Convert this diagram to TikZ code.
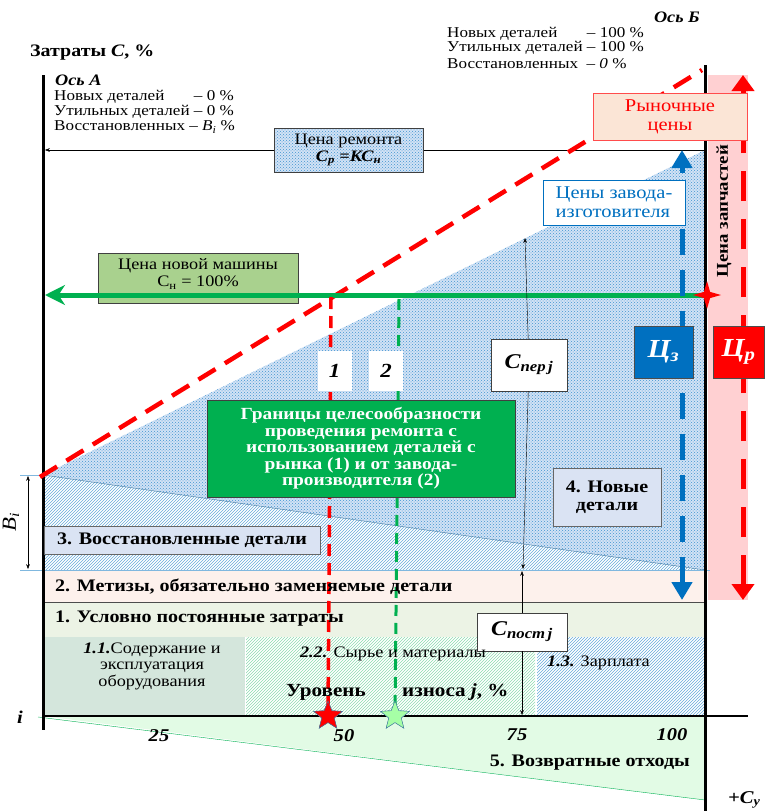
\documentclass[tikz,border=0pt]{standalone}
\usepackage{fontspec}
\setmainfont{Liberation Serif}[FakeStretch=1.14]
\usetikzlibrary{shapes}
\usetikzlibrary{patterns}
\usetikzlibrary{arrows.meta}
\usetikzlibrary{positioning}

\definecolor{zgreen}{RGB}{0,176,80}
\definecolor{zblue}{RGB}{0,112,192}
\definecolor{zred}{RGB}{255,0,0}
\definecolor{newcar}{RGB}{169,209,142}
\definecolor{lightbox}{RGB}{218,227,243}
\definecolor{meshblue}{RGB}{210,226,245}
\definecolor{marketfill}{RGB}{251,229,214}
\definecolor{bandpink}{RGB}{253,241,236}
\definecolor{bandgreen}{RGB}{236,243,229}
\definecolor{upkeep}{RGB}{212,230,220}
\definecolor{sparepink}{RGB}{255,208,210}
\definecolor{scrap}{RGB}{226,251,229}

\begin{document}
\begin{tikzpicture}[x=1pt,y=-1pt,>=Stealth,
  small text/.style={font=\fontsize{15}{15}\selectfont,inner sep=0pt,anchor=west},
  zone label/.style={font=\fontsize{17.6}{17.6}\selectfont\bfseries,inner sep=0pt},
  tick label/.style={font=\fontsize{18}{18}\selectfont\bfseries\itshape,inner sep=0pt},
  main box/.style={draw=black!75,align=center,inner sep=0pt},
  red dash/.style={zred,line width=4.5pt,dash pattern=on 20pt off 11pt},
  mesh/.style={preaction={fill=meshblue},pattern=crosshatch dots,pattern color=zblue!75},
  lines blue/.style={pattern=north east lines,pattern color=zblue!60},
  mark star/.style={star,star points=5,star point ratio=2.3,minimum size=30pt,inner sep=0pt,draw=zblue!50!gray}]

\useasboundingbox (0,0) rectangle (764,811);

\coordinate (a top) at (43,75);
\coordinate (a bot) at (43,730);
\coordinate (b top) at (705,65);
\coordinate (b bot) at (705,811);
\coordinate (origin) at (43,716);
\coordinate (x end) at (748,716);
\coordinate (bi top) at (43,475);
\coordinate (bi bot) at (43,570);
\coordinate (new top) at (705,150);
\coordinate (new bot) at (705,570);

% zones
\fill[bandpink] (43,570) rectangle (705,602);
\fill[bandgreen] (43,602) rectangle (705,637);
\fill[upkeep] (45,637) rectangle (245,716);
\fill[pattern=north east lines,pattern color=zgreen!45] (246,637) rectangle (535,716);
\fill[lines blue] (537,637) rectangle (705,716);
\fill[scrap] (origin) -- (705,716) -- (705,800) -- cycle;
\draw[zgreen,thin] (38,717) -- (705,800) -- (705,716);
\fill[mesh] (bi top) -- (new top) -- (new bot) -- cycle;
\fill[lines blue] (bi top) -- (new bot) -- (bi bot) -- cycle;
\draw[zblue!50!gray,thin] (bi top) -- (new bot);
\draw[black!70,thin] (43,602) -- (705,602);
\fill[sparepink] (708,75) rectangle (748,600);
\draw[zblue!50,thin] (20,475) -- (bi top);
\draw[zblue!50,thin] (20,570) -- (710,570);

% axes
\draw[line width=3pt] (a top) -- (a bot);
\draw[line width=3pt] (b top) -- (b bot);
\draw[line width=2.5pt] (origin) -- (x end);

% repair price
\coordinate (repair right) at (705,150);
\coordinate (repair left) at (45,150);
\draw[->,thin] (repair right) -- (repair left);
\node[main box,mesh,minimum width=149pt,minimum height=44pt,font=\fontsize{16}{16}\selectfont] at (348.5,150) (repair) {Цена ремонта\\[1pt]\textbf{\textit{C\textsubscript{р} =КС\textsubscript{н}}}};

% market line
\coordinate (market start) at (40,477);
\coordinate (market end) at (702,70);
\draw[red dash] (market start) -- (market end);

% new machine price
\coordinate (green right) at (705,295);
\coordinate (green left) at (45,295);
\node[main box,fill=newcar,minimum width=200pt,minimum height=50pt] at (198,278) (new car) {};
\node[font=\fontsize{16}{17}\selectfont,align=center,inner sep=0pt] at (198,274) (new car text) {Цена новой машины\\С\textsubscript{н} = 100\%};
\draw[zgreen,line width=5pt,-{Stealth[length=20pt,width=20pt]}] (green right) -- (green left);
\node[star,star points=4,star point ratio=3.2,minimum size=28pt,inner sep=0pt,fill=zred] at (707,295) (cross star) {};

% limits 1 and 2
\coordinate (cross one) at (331,297);
\coordinate (cross two) at (399,299);
\node[mark star,fill=zred] at (328,716) (star one) {};
\node[mark star,fill=green!35] at (395,716) (star two) {};
\draw[zred,line width=3.5pt,dash pattern=on 12pt off 7pt] (cross one) -- (star one.center);
\draw[zgreen,line width=3pt,dash pattern=on 11pt off 7pt] (cross two) -- (star two.center);
\node[mark star,fill=zred] at (328,716) {};
\node[mark star,fill=green!35] at (395,716) {};
\node[fill=white,minimum width=34pt,minimum height=40pt,font=\fontsize{20}{20}\selectfont\bfseries\itshape] at (334.5,371) (limit one) {1};
\node[fill=white,minimum width=34pt,minimum height=40pt,font=\fontsize{20}{20}\selectfont\bfseries\itshape] at (386,371) (limit two) {2};
\node[main box,fill=zgreen,text=white,minimum width=308pt,minimum height=97pt,font=\fontsize{17}{16.5}\selectfont\bfseries] at (361,448.5) (bounds) {Границы целесообразности\\проведения ремонта с\\использованием деталей с\\рынка (1) и от завода-\\производителя (2)};

% variable and constant costs
\coordinate (per top) at (525,238);
\coordinate (per bot) at (523,569);
\coordinate (post top) at (522,571);
\coordinate (post bot) at (522,715);
\node[main box,fill=white,minimum width=76pt,minimum height=52pt,font=\fontsize{21}{21}\selectfont\bfseries\itshape] at (529,365) (c per) {C\textsubscript{пер\,j}};
\node[main box,fill=white,minimum width=90pt,minimum height=38pt,font=\fontsize{21}{21}\selectfont\bfseries\itshape] at (522,632) (c post) {C\textsubscript{пост\,j}};
\draw[->,thin] (c per) -- (per top);
\draw[->,thin] (c per) -- (per bot);
\draw[->,thin] (c post) -- (post top);
\draw[->,thin] (c post) -- (post bot);

% spare part prices
\coordinate (factory top) at (682,150);
\coordinate (factory bot) at (682,600);
\coordinate (market top) at (743,75);
\coordinate (market bot) at (743,600);
\draw[zblue,line width=5pt,dash pattern=on 26pt off 15pt,{Triangle[length=18pt,width=20pt]}-{Triangle[length=18pt,width=20pt]}] (factory bot) -- (factory top);
\draw[zred,line width=5pt,dash pattern=on 30pt off 18pt,{Triangle[length=16pt,width=22pt]}-{Triangle[length=16pt,width=22pt]}] (market bot) -- (market top);
\node[draw=zblue,fill=white,text=zblue,align=left,inner sep=0pt,minimum width=142pt,minimum height=45pt,font=\fontsize{18}{19}\selectfont] at (614,202.5) (factory) {Цены завода-\\изготовителя};
\node[draw=zred!70,fill=marketfill,text=zred,align=center,inner sep=0pt,minimum width=154pt,minimum height=47pt,font=\fontsize{18}{19}\selectfont] at (670,116.5) (market) {Рыночные\\цены};
\node[draw=black!70,fill=zblue,text=white,inner sep=0pt,minimum width=59pt,minimum height=52pt,font=\fontsize{26}{26}\selectfont\bfseries\itshape] at (663.5,352) (price z) {Ц\textsubscript{з}};
\node[draw=black!70,fill=zred,text=white,inner sep=0pt,minimum width=51pt,minimum height=52pt,font=\fontsize{26}{26}\selectfont\bfseries\itshape] at (738.5,352) (price r) {Ц\textsubscript{р}};
\node[rotate=90,font=\fontsize{16.5}{16.5}\selectfont\bfseries,inner sep=0pt] at (724,211) (spare) {Цена запчастей};

% zone labels
\node[draw=black!60,fill=lightbox,minimum width=276pt,minimum height=28pt,zone label] at (182,540) (restored) {3. Восстановленные детали};
\node[draw=black!60,fill=lightbox,minimum width=108pt,minimum height=58pt,zone label,align=center] at (607,497) (new parts) {4. Новые\\детали};
\node[zone label,anchor=west] at (55,587) (zone two) {2. Метизы, обязательно заменяемые детали};
\node[zone label,anchor=west] at (55,619) (zone one) {1. Условно постоянные затраты};
\node[font=\fontsize{16}{16.5}\selectfont,align=center,inner sep=0pt] at (152,666) (upkeep) {\textbf{\textit{1.1.}}Содержание и\\эксплуатация\\оборудования};
\node[font=\fontsize{16}{16}\selectfont,inner sep=0pt] at (393,654) (raw) {\textbf{\textit{2.2.}} Сырье и материалы};
\node[font=\fontsize{16}{16}\selectfont,inner sep=0pt,anchor=west] at (547,663) (wages) {\textbf{\textit{1.3.}} Зарплата};
\node[zone label,font=\fontsize{18.5}{18.5}\selectfont\bfseries] at (326,692) (level) {Уровень};
\node[zone label,font=\fontsize{18.5}{18.5}\selectfont\bfseries,anchor=west] at (402,692) (wear) {износа \textit{j}, \%};
\node[zone label,anchor=east] at (690,763) (zone five) {5. Возвратные отходы};

% axis labels
\node[tick label] at (20,717) (i label) {i};
\node[tick label] at (159,736) (t25) {25};
\node[tick label] at (344,736) (t50) {50};
\node[tick label] at (517,735) (t75) {75};
\node[tick label] at (672,735) (t100) {100};
\node[tick label,anchor=west] at (728,800) (cy) {+C\textsubscript{y}};
\coordinate (bi up) at (28,476);
\coordinate (bi down) at (28,569);
\draw[<->,thin] (bi up) -- (bi down);
\node[rotate=90,font=\fontsize{20}{20}\selectfont\itshape,inner sep=0pt] at (11,522) (bi) {B\textsubscript{i}};

% axis captions
\node[small text,font=\fontsize{17.5}{17.5}\selectfont\bfseries] at (30,53) (cost title) {Затраты \textit{С}, \%};
\node[small text,font=\fontsize{16}{16}\selectfont\bfseries\itshape] at (55,80) (axis a) {Ось А};
\node[small text] at (54,97) (a new) {\rlap{Новых деталей}\phantom{Утильных деталей} – 0 \%};
\node[small text] at (54,112) (a used) {Утильных деталей – 0 \%};
\node[small text] at (54,127) (a rest) {Восстановленных – \textit{B\textsubscript{i}} \%};
\node[small text,anchor=east,font=\fontsize{16}{16}\selectfont\bfseries\itshape] at (700,17) (axis b) {Ось Б};
\node[small text] at (447,34) (b new) {\rlap{Новых деталей}\phantom{Утильных деталей} – 100 \%};
\node[small text] at (447,48) (b used) {Утильных деталей – 100 \%};
\node[small text] at (447,64) (b rest) {Восстановленных \ – \textit{0} \%};

\end{tikzpicture}
\end{document}
